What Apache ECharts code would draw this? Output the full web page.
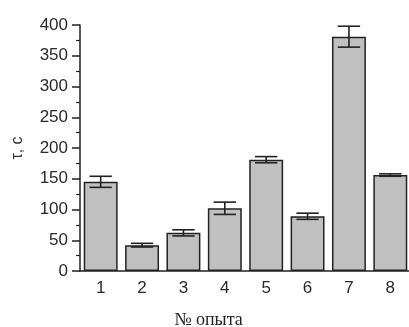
<!DOCTYPE html>
<html><head><meta charset="utf-8">
<script src="https://cdn.jsdelivr.net/npm/echarts@6/dist/echarts.min.js"></script>
<style>html,body{margin:0;padding:0;background:#fff}#c{width:409px;height:327px}</style>
</head><body><div id="c"></div>
<script>
var categories = ['1','2','3','4','5','6','7','8'];
var values = [145, 42, 62, 102, 181, 89, 381, 156];
var errors = [9, 3, 5, 10, 5, 5, 17, 2];
var yTicks = [0, 50, 100, 150, 200, 250, 300, 350, 400];

var chart = echarts.init(document.getElementById('c'));
var errData = values.map(function(v, i){ return [i, v - errors[i], v + errors[i]]; });
chart.setOption({
  animation: false,
  backgroundColor: '#fff',
  grid: {left: 80, right: -2, top: 25, bottom: 56, outerBoundsMode: 'none', containLabel: false},
  xAxis: {
    type: 'category', data: categories,
    name: '№ опыта', nameLocation: 'middle', nameGap: 40,
    nameTextStyle: {fontFamily: 'Liberation Serif', fontSize: 18, color: '#222', padding: [0, 74, 0, 0]},
    axisLine: {lineStyle: {color: '#222', width: 1.5}},
    axisTick: {alignWithLabel: true, length: 5, lineStyle: {color: '#222', width: 1.5}},
    axisLabel: {fontFamily: 'Liberation Sans', fontSize: 17, color: '#2a2a2a', margin: 9}
  },
  yAxis: {
    type: 'value', min: yTicks[0], max: yTicks[yTicks.length-1], interval: 50,
    name: 'τ, с', nameLocation: 'middle', nameGap: 54, nameRotate: 90,
    nameTextStyle: {fontFamily: 'Liberation Sans', fontSize: 16, color: '#333'},
    axisLine: {show: true, lineStyle: {color: '#222', width: 1.5}},
    axisTick: {show: true, length: 8, lineStyle: {color: '#222', width: 1.5}},
    minorTick: {show: true, splitNumber: 2, length: 4, lineStyle: {color: '#222', width: 1.2}},
    splitLine: {show: false},
    axisLabel: {fontFamily: 'Liberation Sans', fontSize: 17, color: '#2a2a2a', margin: 12}
  },
  series: [{
    type: 'bar', data: values, barWidth: '82%',
    itemStyle: {color: '#c0c0c0', borderColor: '#222', borderWidth: 1.5}
  }, {
    type: 'custom', data: errData, z: 10,
    renderItem: function(params, api){
      var x = api.value(0);
      var lo = api.coord([x, api.value(1)]);
      var hi = api.coord([x, api.value(2)]);
      var hw = api.size([1, 0])[0] * 0.27;
      var st = {stroke: '#222', lineWidth: 1.6};
      return {type: 'group', children: [
        {type: 'line', shape: {x1: lo[0], y1: lo[1], x2: hi[0], y2: hi[1]}, style: st},
        {type: 'line', shape: {x1: hi[0]-hw, y1: hi[1], x2: hi[0]+hw, y2: hi[1]}, style: st},
        {type: 'line', shape: {x1: lo[0]-hw, y1: lo[1], x2: lo[0]+hw, y2: lo[1]}, style: st}
      ]};
    }
  }]
});
</script></body></html>
